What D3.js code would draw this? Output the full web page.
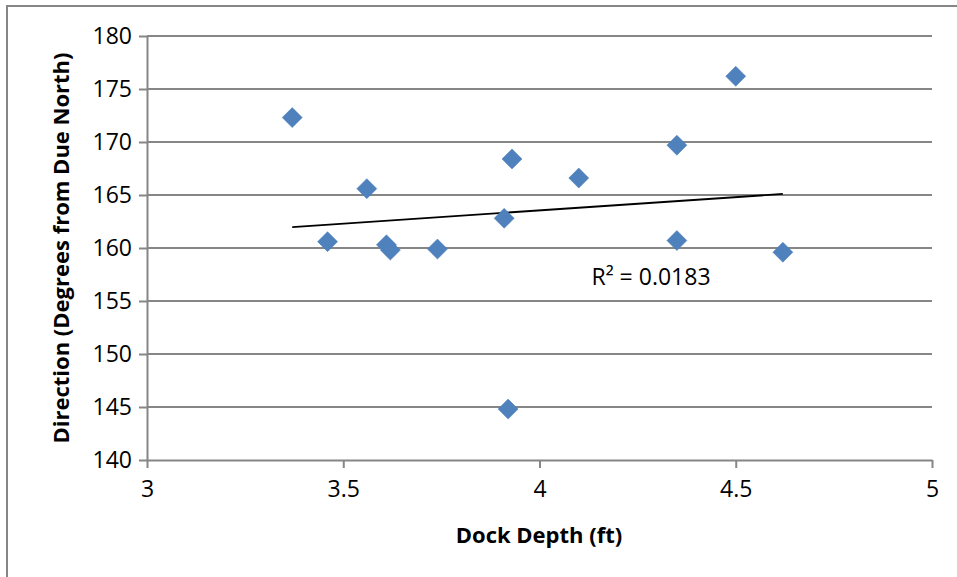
<!DOCTYPE html>
<html>
<head>
<meta charset="UTF-8">
<style>
  body { margin: 0; background: #fff; }
  text { font-family: "Open Sans", sans-serif; fill: #000; }
  .grid line { stroke: #868686; stroke-width: 2px; }
  .axis path, .axis line { stroke: #868686; stroke-width: 2px; }
  .axis text { font-size: 23px; }
  .title { font-size: 22px; font-weight: bold; }
</style>
</head>
<body>
<script src="https://cdnjs.cloudflare.com/ajax/libs/d3/7.8.5/d3.min.js"></script>
<svg id="chart" width="957" height="577"></svg>
<script>
  // dock depth (ft) vs direction (degrees from due north)
  var depth = [3.37, 3.46, 3.56, 3.61, 3.62, 3.74, 3.91, 3.92, 3.93, 4.10, 4.35, 4.35, 4.50, 4.62];
  var direction = [172.3, 160.6, 165.6, 160.3, 159.8, 159.9, 162.8, 144.8, 168.4, 166.6, 169.7, 160.7, 176.2, 159.6];
  var xTicks = [3, 3.5, 4, 4.5, 5];
  var yTicks = [140, 145, 150, 155, 160, 165, 170, 175, 180];
  var rSquaredLabel = "R² = 0.0183";

  var svg = d3.select("#chart");
  var margin = { left: 147, right: 25, top: 36, bottom: 117 };
  var width = 957, height = 577;

  // chart area border
  svg.append("rect")
    .attr("x", 7).attr("y", 6)
    .attr("width", 960).attr("height", 580)
    .attr("fill", "none").attr("stroke", "#868686").attr("stroke-width", 2);

  var x = d3.scaleLinear().domain([3, 5]).range([margin.left, width - margin.right]);
  var y = d3.scaleLinear().domain([140, 180]).range([height - margin.bottom, margin.top]);

  svg.append("g").attr("class", "grid")
    .selectAll("line").data(yTicks.slice(1)).enter().append("line")
    .attr("x1", x(3)).attr("x2", x(5))
    .attr("y1", d => y(d)).attr("y2", d => y(d));

  svg.append("g").attr("class", "axis")
    .attr("transform", "translate(" + x(3) + ",0)")
    .call(d3.axisLeft(y).tickValues(yTicks).tickSize(8).tickSizeOuter(0).tickPadding(7).tickFormat(d3.format("d")));

  svg.append("g").attr("class", "axis")
    .attr("transform", "translate(0," + y(140) + ")")
    .call(d3.axisBottom(x).tickValues(xTicks).tickSize(8).tickSizeOuter(0).tickPadding(13).tickFormat(d => d));

  svg.selectAll(".axis text").attr("fill", "#000");

  // linear trend line (least squares)
  var mx = d3.mean(depth), my = d3.mean(direction);
  var sxy = d3.sum(depth, (d, i) => (d - mx) * (direction[i] - my));
  var sxx = d3.sum(depth, d => (d - mx) * (d - mx));
  var slope = sxy / sxx, icpt = my - slope * mx;
  var x0 = d3.min(depth), x1 = d3.max(depth);
  svg.append("line")
    .attr("x1", x(x0)).attr("y1", y(icpt + slope * x0))
    .attr("x2", x(x1)).attr("y2", y(icpt + slope * x1))
    .attr("stroke", "#000").attr("stroke-width", 1.8);

  var diamond = d3.symbol().type(d3.symbolSquare).size(200);
  svg.append("g").selectAll("path")
    .data(depth).enter().append("path")
    .attr("d", diamond)
    .attr("transform", (d, i) => "translate(" + x(d) + "," + y(direction[i]) + ") rotate(45)")
    .attr("fill", "#4F81BD").attr("stroke", "#4A7EBB").attr("stroke-width", 0.5);

  svg.append("text")
    .attr("x", 651).attr("y", 285)
    .attr("text-anchor", "middle")
    .style("font-size", "23px")
    .text(rSquaredLabel);

  svg.append("text").attr("class", "title")
    .attr("x", 539).attr("y", 543)
    .attr("text-anchor", "middle")
    .text("Dock Depth (ft)");

  svg.append("text").attr("class", "title")
    .attr("transform", "translate(69," + y(160) + ") rotate(-90)")
    .attr("text-anchor", "middle")
    .text("Direction (Degrees from Due North)");
</script>
</body>
</html>
